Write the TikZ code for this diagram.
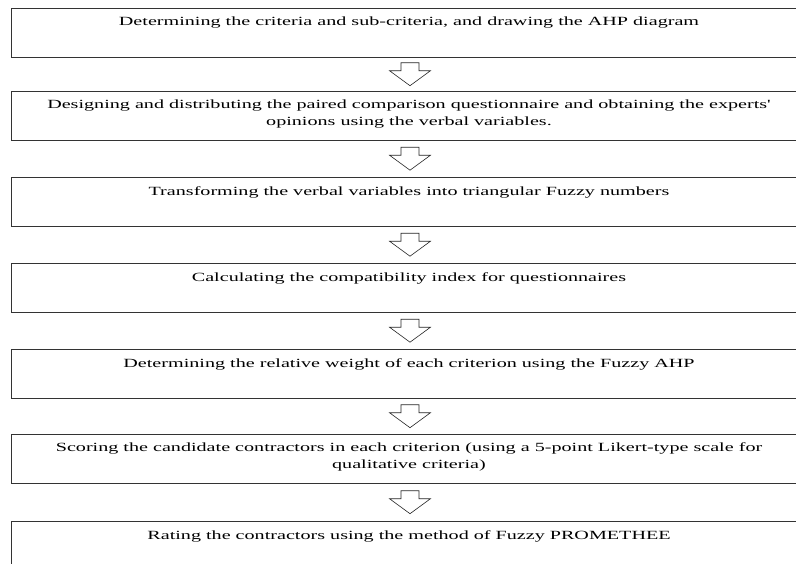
\documentclass[tikz,border=0pt]{standalone}
\usepackage{fontspec}
\setmainfont[FakeStretch=1.61,Ligatures=TeXOff]{Liberation Serif}
\usetikzlibrary{calc}
\newcommand\linkarrow[2]{%
  \coordinate (#1m) at ($(#1.south)!0.5!(#2.north)$);
  \draw[flowarrow] ($(#1m)+(-9,-11.5)$) -- ++(18,0) -- ++(0,8) -- ++(11.5,0)
    -- ($(#1m)+(0,11.5)$) -- ($(#1m)+(-20.5,-3.5)$) -- ++(11.5,0) -- cycle;}
\begin{document}
\begin{tikzpicture}[x=1pt,y=-1pt,
  stage/.style={draw=black!80, line width=0.9pt, minimum width=798pt,
    minimum height=48.5pt, inner sep=0pt, anchor=north},
  caption/.style={anchor=north, inner sep=0pt, align=center,
    font=\fontsize{12.5}{17}\selectfont},
  flowarrow/.style={draw=black!85, line width=0.6pt, fill=white, line join=miter}]
\useasboundingbox (0,0) rectangle (796,563);
\clip (0,0) rectangle (796,563);
\fill[white] (0,0) rectangle (796,563);

\node[stage] (s1) at (410,8) {};
\node[stage] (s2) at (410,91) {};
\node[stage] (s3) at (410,177) {};
\node[stage] (s4) at (410,263) {};
\node[stage] (s5) at (410,349) {};
\node[stage] (s6) at (410,434) {};
\node[stage, minimum height=70pt] (s7) at (410,521) {};

\node[caption] (t1) at ($(s1.north)+(-1,9)$) {Determining the criteria and sub-criteria, and drawing the AHP diagram};
\node[caption] (t2) at ($(s2.north)+(-1,8.5)$) {Designing and distributing the paired comparison questionnaire and obtaining the experts'\\opinions using the verbal variables.};
\node[caption] (t3) at ($(s3.north)+(-1,9)$) {Transforming the verbal variables into triangular Fuzzy numbers};
\node[caption] (t4) at ($(s4.north)+(-1,9)$) {Calculating the compatibility index for questionnaires};
\node[caption] (t5) at ($(s5.north)+(-1,9)$) {Determining the relative weight of each criterion using the Fuzzy AHP};
\node[caption] (t6) at ($(s6.north)+(-1,8.5)$) {Scoring the candidate contractors in each criterion (using a 5-point Likert-type scale for\\qualitative criteria)};
\node[caption] (t7) at ($(s7.north)+(-1,9)$) {Rating the contractors using the method of Fuzzy PROMETHEE};

\linkarrow{s1}{s2}
\linkarrow{s2}{s3}
\linkarrow{s3}{s4}
\linkarrow{s4}{s5}
\linkarrow{s5}{s6}
\linkarrow{s6}{s7}
\end{tikzpicture}
\end{document}
